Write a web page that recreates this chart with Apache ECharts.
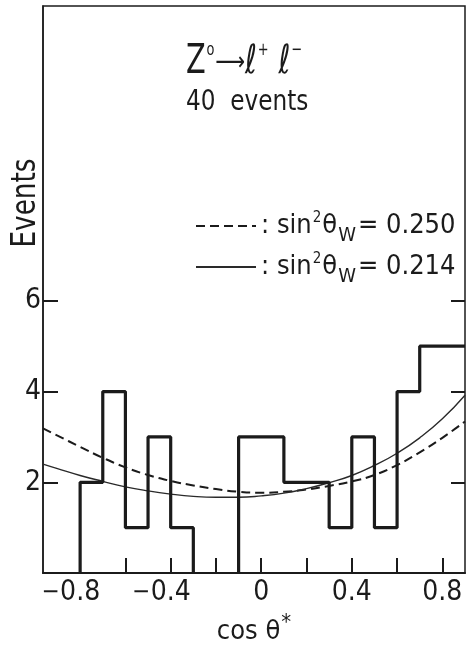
<!DOCTYPE html>
<html>
<head>
<meta charset="utf-8">
<script src="https://cdn.jsdelivr.net/npm/echarts@6/dist/echarts.min.js"></script>
<style>
  html, body { margin: 0; padding: 0; background: #ffffff; }
  #chart { width: 466px; height: 646px; }
</style>
</head>
<body>
<div id="chart"></div>
<script>
// Histogram of cos(theta*) for Z0 -> l+ l- : bin edges (width 0.1) and event counts per bin
const binEdges = [-0.8, -0.7, -0.6, -0.5, -0.4, -0.3, -0.2, -0.1, 0.0, 0.1, 0.2, 0.3, 0.4, 0.5, 0.6, 0.7, 0.8, 0.9];
const binCounts = [2, 4, 1, 3, 1, 0, 0, 3, 3, 2, 2, 1, 3, 1, 4, 5, 5];

// Expected distributions, sampled along cos(theta*)
const curveX = [-0.964, -0.9, -0.8, -0.7, -0.6, -0.5, -0.4, -0.3, -0.2, -0.1, 0.0, 0.1, 0.2, 0.3, 0.4, 0.5, 0.6, 0.7, 0.8, 0.9];
const expected250 = [3.19, 3.03, 2.78, 2.54, 2.33, 2.16, 2.03, 1.93, 1.85, 1.79, 1.77, 1.79, 1.84, 1.92, 2.02, 2.16, 2.38, 2.66, 2.98, 3.34];
const expected214 = [2.40, 2.30, 2.15, 2.02, 1.90, 1.81, 1.74, 1.69, 1.67, 1.67, 1.70, 1.76, 1.86, 1.99, 2.15, 2.37, 2.64, 2.98, 3.40, 3.92];

// Axis ticks and labels
const xTicks = [-0.8, -0.6, -0.4, -0.2, 0, 0.2, 0.4, 0.6, 0.8];
const xTickLabels = [-0.8, -0.4, 0, 0.4, 0.8];
const yTicks = [2, 4, 6];

const FONT = "'DejaVu Sans Condensed','Liberation Sans Narrow','Roboto Condensed','Liberation Sans',sans-serif";
const INK = '#1b1b1b';

// Step outline: rise from the axis at the first edge, one point per bin edge;
// runs of empty bins leave the outline open along the axis.
const histData = [[binEdges[0], 0]];
binCounts.forEach((c, i) => {
  const prev = i > 0 ? binCounts[i - 1] : 0;
  if (c === 0) {
    if (prev !== 0) {
      histData.push([binEdges[i], 0]);
      histData.push([binEdges[i], '-']);
    }
  } else {
    if (i > 0 && prev === 0) histData.push([binEdges[i], 0]);
    histData.push([binEdges[i], c]);
  }
});
histData.push([binEdges[binEdges.length - 1], binCounts[binCounts.length - 1]]);

const zip = (xs, ys) => xs.map((x, i) => [x, ys[i]]);

const chart = echarts.init(document.getElementById('chart'), null, { renderer: 'canvas' });

const option = {
  animation: false,
  backgroundColor: '#ffffff',
  color: [INK, INK, INK],
  grid: {
    left: 43, top: 6, right: 1, bottom: 73,
    outerBoundsMode: 'none', containLabel: false,
    show: true, borderColor: INK, borderWidth: 1.5
  },
  xAxis: {
    type: 'value', min: -0.964, max: 0.9,
    axisLine: { show: true, onZero: false, lineStyle: { color: INK, width: 2 } },
    axisTick: { show: true, inside: true, length: 15, customValues: xTicks, lineStyle: { color: INK, width: 2 } },
    axisLabel: {
      customValues: xTickLabels, margin: 6, color: INK, fontFamily: FONT, fontSize: 28,
      formatter: v => v < 0 ? '{m|−}{n|' + Math.abs(v) + '}{p| }' : '{n|' + v + '}',
      rich: {
        m: { fontFamily: FONT, fontSize: 24, color: INK, width: 19 },
        n: { fontFamily: FONT, fontSize: 28, color: INK },
        p: { fontFamily: FONT, fontSize: 24, width: 19 }
      }
    },
    splitLine: { show: false },
    name: '{c|cos θ}{s|*}', nameLocation: 'middle', nameGap: 36,
    nameTextStyle: {
      rich: {
        c: { fontFamily: FONT, fontSize: 27, color: INK },
        s: { fontFamily: FONT, fontSize: 22, color: INK, padding: [0, 0, 18, 1] }
      }
    }
  },
  yAxis: [
    {
      type: 'value', min: 0, max: 12.5,
      axisLine: { show: true, onZero: false, lineStyle: { color: INK, width: 1.5 } },
      axisTick: { show: true, inside: true, length: 15, customValues: yTicks, lineStyle: { color: INK, width: 2 } },
      axisLabel: { customValues: yTicks, margin: 2, color: INK, fontFamily: FONT, fontSize: 28 },
      splitLine: { show: false }
    },
    {
      type: 'value', min: 0, max: 12.5, position: 'right',
      axisLine: { show: false, onZero: false },
      axisTick: { show: true, inside: true, length: 14, customValues: yTicks, lineStyle: { color: INK, width: 2 } },
      axisLabel: { show: false },
      splitLine: { show: false }
    }
  ],
  legend: {
    orient: 'vertical', left: 195, top: 206, padding: 0,
    itemWidth: 60, itemHeight: 14, itemGap: 1,
    selectedMode: false, data: ['0.250', '0.214'],
    itemStyle: { opacity: 0 },
    formatter: n => '{t|: sin}{sup|2}{t|θ}{sub|W}{t|= ' + n + '}',
    textStyle: {
      fontFamily: FONT, fontSize: 27, color: INK,
      rich: {
        t: { fontFamily: FONT, fontSize: 27, color: INK, lineHeight: 30 },
        sup: { fontFamily: FONT, fontSize: 15, color: INK, padding: [0, 1, 15, 1], lineHeight: 30 },
        sub: { fontFamily: FONT, fontSize: 20, color: INK, padding: [20, 2, 0, 1], lineHeight: 30 }
      }
    }
  },
  series: [
    {
      name: 'Events', type: 'line', step: 'end', data: histData, connectNulls: false,
      symbol: 'none', lineStyle: { color: INK, width: 3.2 }, z: 3
    },
    {
      name: '0.250', type: 'line', smooth: true, data: zip(curveX, expected250),
      symbol: 'none', lineStyle: { color: INK, width: 2, type: [9, 5] }, z: 2
    },
    {
      name: '0.214', type: 'line', smooth: true, data: zip(curveX, expected214),
      symbol: 'none', lineStyle: { color: '#2a2a2a', width: 1.4 }, z: 2
    }
  ],
  graphic: [
    {
      type: 'text', x: 186, y: 63, scaleX: 0.8,
      style: {
        text: '{b|Z}{s|o}{a|⟶}{b|ℓ}{s|+}{b| ℓ}{s|−}',
        textAlign: 'left', textVerticalAlign: 'middle', fill: INK,
        rich: {
          b: { fontFamily: FONT, fontSize: 40, fill: INK },
          s: { fontFamily: FONT, fontSize: 18, fill: INK, padding: [0, 1, 26, 1] },
          a: { fontFamily: 'DejaVu Sans', fontSize: 26, fill: INK }
        }
      }
    },
    {
      type: 'text', x: 186, y: 103, scaleX: 0.92,
      style: { text: '40  events', textAlign: 'left', textVerticalAlign: 'middle', fill: INK, fontFamily: FONT, fontSize: 28 }
    },
    {
      type: 'text', x: 26, y: 203, rotation: Math.PI / 2, scaleX: 0.86,
      style: { text: 'Events', textAlign: 'center', textVerticalAlign: 'middle', fill: INK, fontFamily: FONT, fontSize: 34 }
    }
  ]
};

chart.setOption(option);
</script>
</body>
</html>
